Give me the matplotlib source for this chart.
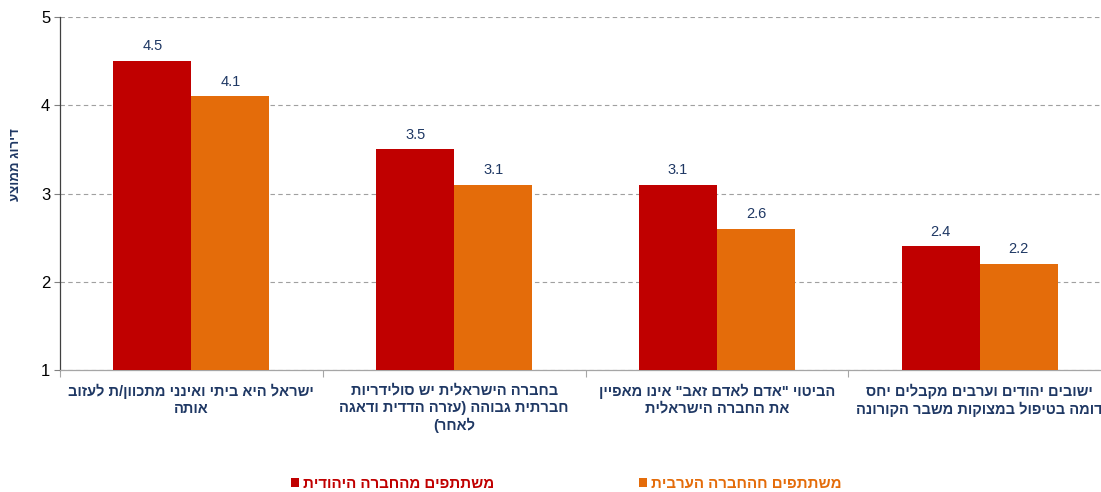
import matplotlib
matplotlib.use("Agg")
import matplotlib.pyplot as plt
from matplotlib.patches import Patch
from matplotlib.ticker import FixedLocator

categories = [
    "ישראל היא ביתי ואינני מתכוון/ת לעזוב\nאותה",
    "בחברה הישראלית יש סולידריות\nחברתית גבוהה (עזרה הדדית ודאגה\nלאחר)",
    "הביטוי \"אדם לאדם זאב\" אינו מאפיין\nאת החברה הישראלית",
    "ישובים יהודים וערבים מקבלים יחס\nדומה בטיפול במצוקות משבר הקורונה",
]
jewish = [4.5, 3.5, 3.1, 2.4]
arab = [4.1, 3.1, 2.6, 2.2]
series_names = ["משתתפים מהחברה היהודית", "משתתפים חהחברה הערבית"]
y_label = "דירוג ממוצע"
y_ticks = [1, 2, 3, 4, 5]

RED = "#C00000"
ORANGE = "#E46C0A"
NAVY = "#1F3864"


def heb(s):
    out = []
    for line in s.split("\n"):
        r = line[::-1]
        r = r.translate(str.maketrans({"(": ")", ")": "("}))
        out.append(r)
    return "\n".join(out)


plt.rcParams["font.family"] = ["Liberation Sans", "DejaVu Sans"]

W, H = 1101, 492
fig = plt.figure(figsize=(W / 100, H / 100), dpi=100)
ax = fig.add_axes([60 / W, 1 - 370 / H, (1111 - 60) / W, (370 - 17) / H])

bw = 0.297
xs = list(range(len(categories)))
b1 = ax.bar([x - bw for x in xs], jewish, width=bw, align="edge", color=RED, zorder=3)
b2 = ax.bar(xs, arab, width=bw, align="edge", color=ORANGE, zorder=3)

for bars, vals in ((b1, jewish), (b2, arab)):
    for rect, v in zip(bars, vals):
        ax.annotate(f"{v:.1f}", (rect.get_x() + rect.get_width() / 2, v),
                    xytext=(0, 5.5), textcoords="offset points", ha="center", va="bottom",
                    fontsize=10.5, color=NAVY)

ax.set_xlim(-0.5, len(categories) - 0.5)
ax.set_ylim(1, 5)
ax.set_yticks(y_ticks)
ax.set_yticklabels([str(t) for t in y_ticks])
ax.tick_params(axis="y", length=4, width=0.8, color="#808080", labelsize=12, pad=3, labelcolor="#000000")

ax.set_xticks(xs)
ax.set_xticklabels([heb(c) for c in categories], fontsize=10.5, fontweight="bold", color=NAVY,
                   linespacing=1.25)
ax.tick_params(axis="x", which="major", length=0, pad=10)
ax.xaxis.set_minor_locator(FixedLocator([i - 0.5 for i in range(len(categories) + 1)]))
ax.tick_params(axis="x", which="minor", length=5, width=0.8, color="#A6A6A6", direction="out")

ax.yaxis.grid(True, linestyle=(0, (4, 3)), color="#A0A0A0", linewidth=0.8, zorder=0)
for s in ("top", "right"):
    ax.spines[s].set_visible(False)
ax.spines["left"].set_color("#404040")
ax.spines["left"].set_linewidth(0.9)
ax.spines["bottom"].set_color("#A6A6A6")
ax.spines["bottom"].set_linewidth(0.9)
ax.set_facecolor("none")

fig.text(16 / W, 1 - 165 / H, heb(y_label), rotation=90, ha="center", va="center",
         fontsize=9.5, fontweight="bold", color=NAVY)

handles = [Patch(facecolor=RED, edgecolor="none"), Patch(facecolor=ORANGE, edgecolor="none")]
leg = fig.legend(handles, [heb(n) for n in series_names], ncol=2, loc="center left",
                 bbox_to_anchor=(291 / W, 1 - 484 / H), frameon=False,
                 prop={"size": 10.8, "weight": "bold"}, handlelength=0.55, handleheight=0.55,
                 handletextpad=0.22, columnspacing=9.7, borderaxespad=0, borderpad=0)
for t, c in zip(leg.get_texts(), (RED, ORANGE)):
    t.set_color(c)

fig.savefig("out.png", dpi=100)
